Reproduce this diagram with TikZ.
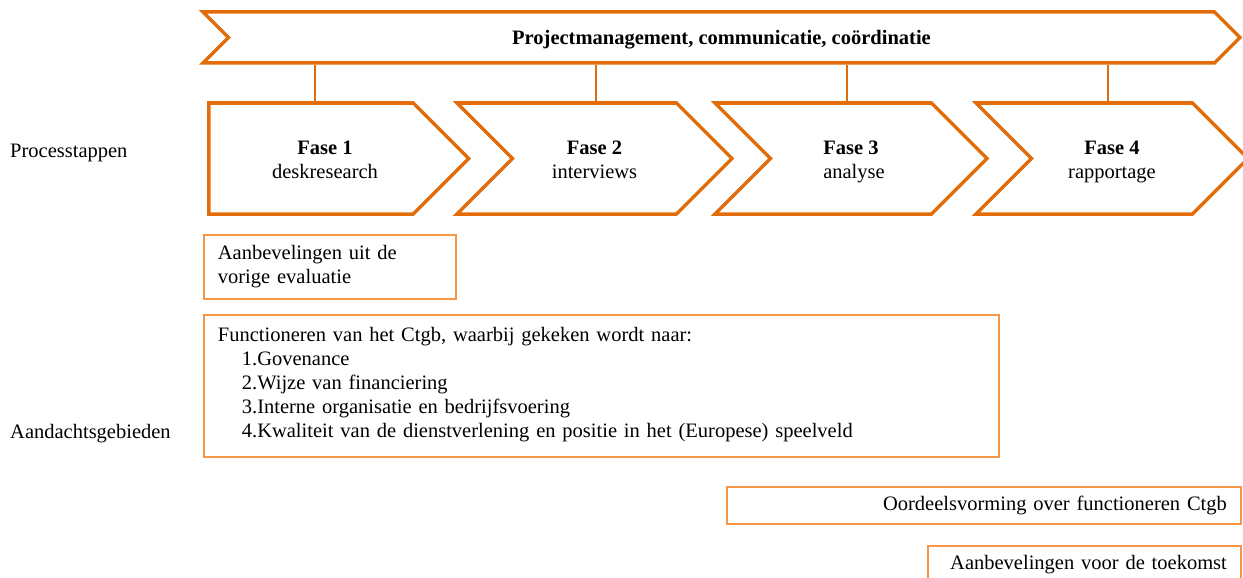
\documentclass[tikz,border=0pt]{standalone}
\usepackage{fontspec}
\setmainfont{Liberation Serif}
\usetikzlibrary{shapes.symbols}
\usetikzlibrary{positioning}
\definecolor{faseoranje}{HTML}{E36C0A}
\definecolor{vakoranje}{HTML}{F79646}

\begin{document}
\begin{tikzpicture}[x=1pt,y=-1pt,
  every node/.style={font=\fontsize{20.5}{24}\selectfont},
  balk/.style={signal,draw=faseoranje,line width=3.5pt,signal from=west,signal to=east,signal pointer angle=90,
    minimum width=1037pt,minimum height=51pt,inner sep=0pt,text depth=0pt,font=\fontsize{20.5}{24}\selectfont\bfseries},
  fasepijl/.style={signal,draw=faseoranje,line width=3.5pt,signal to=east,signal pointer angle=90,
    minimum height=111pt,inner sep=0pt,align=center},
  vak/.style={rectangle,draw=vakoranje,line width=1.8pt,inner xsep=14pt,inner ysep=0pt,anchor=north west},
  lijn/.style={draw=faseoranje,line width=2pt}]
\useasboundingbox (0,0) rectangle (1243,578);

% processtappen
\node [balk] (balk) at (721.5,37.5) {Projectmanagement, communicatie, coördinatie};
\node [fasepijl,signal from=nowhere,minimum width=260pt] (f1) at (311,158.5) {};
\node [align=center,inner sep=0pt] (t1) at ([xshift=14pt]f1.center)
  {\rule{0pt}{20pt}\textbf{Fase 1}\\deskresearch\rule[-5pt]{0pt}{5pt}};
\node [fasepijl,signal from=west,minimum width=275pt] (f2) at (594.5,158.5)
  {\rule{0pt}{20pt}\textbf{Fase 2}\\interviews\rule[-5pt]{0pt}{5pt}};
\node [fasepijl,signal from=west,minimum width=272pt] (f3) at (851,158.5)
  {\rule{0pt}{20pt}\textbf{Fase 3}\\\hspace*{6pt}analyse\rule[-5pt]{0pt}{5pt}};
\node [fasepijl,signal from=west,minimum width=272pt] (f4) at (1112,158.5)
  {\rule{0pt}{20pt}\textbf{Fase 4}\\rapportage\rule[-5pt]{0pt}{5pt}};

\coordinate (k1) at (315,0);
\coordinate (k2) at (596,0);
\coordinate (k3) at (847,0);
\coordinate (k4) at (1108,0);
\foreach \i in {1,...,4}
  \path[lijn] (balk.south -| k\i) -- (f\i.north -| k\i);

\node [anchor=west,inner sep=0pt] (proces) at (10,153) {Processtappen};
\node [anchor=west,inner sep=0pt] (aandacht) at (10,434) {Aandachtsgebieden};

% aandachtsgebieden
\node [vak,text width=224pt,minimum height=64pt,align=left] (vorige) at (203,234)
  {Aanbevelingen uit de\\vorige evaluatie};
\node [vak,text width=767pt,minimum height=142pt,align=left] (ctgb) at (203,314)
  {Functioneren van het Ctgb, waarbij gekeken wordt naar:\\
   \hspace*{24pt}1.Govenance\\
   \hspace*{24pt}2.Wijze van financiering\\
   \hspace*{24pt}3.Interne organisatie en bedrijfsvoering\\
   \hspace*{24pt}4.Kwaliteit van de dienstverlening en positie in het (Europese) speelveld\rule[-8pt]{0pt}{8pt}};
\node [vak,text width=486pt,minimum height=37pt,align=right] (oordeel) at (726,486)
  {Oordeelsvorming over functioneren Ctgb};
\node [vak,text width=285pt,minimum height=37pt,align=right] (toekomst) at (927,545)
  {Aanbevelingen voor de toekomst};
\end{tikzpicture}
\end{document}
